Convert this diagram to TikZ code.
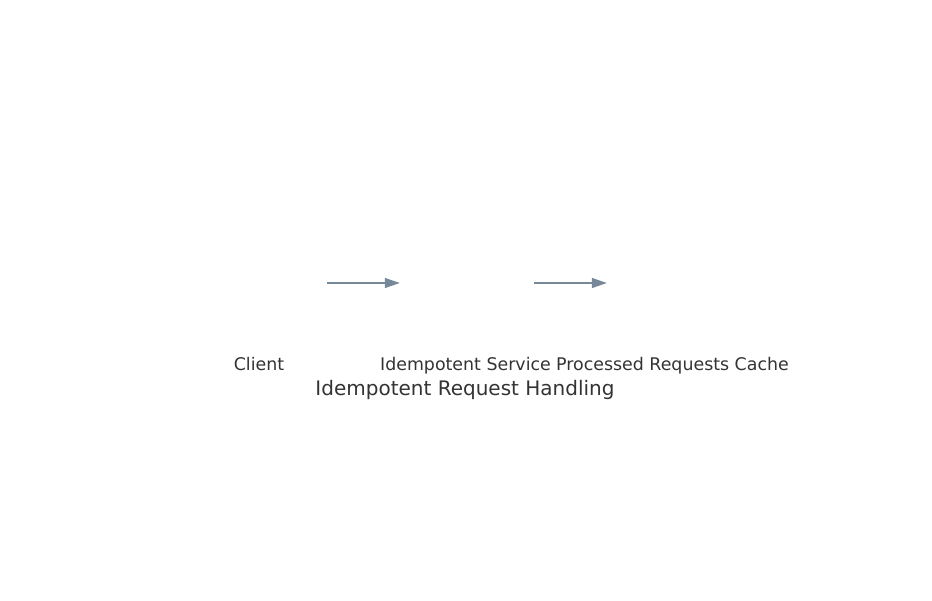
\documentclass[tikz,border=0pt]{standalone}
\usepackage{fontspec}
\setmainfont{DejaVu Sans}
\usetikzlibrary{arrows.meta}
\definecolor{txt}{HTML}{333333}
\definecolor{edge}{HTML}{778899}
\begin{document}
\begin{tikzpicture}[x=1pt,y=-1pt,
  holder/.style={minimum width=136pt,minimum height=60pt,inner sep=0pt},
  lbl/.style={anchor=base,text=txt,font=\fontsize{17.4}{20}\selectfont,inner sep=0pt},
  ttl/.style={anchor=base,text=txt,font=\fontsize{20}{24}\selectfont,inner sep=0pt},
  flow/.style={draw=edge,line width=1.3pt,shorten >=-2.5pt,-{Triangle[length=15pt,width=10pt]}}]
\useasboundingbox (0,0) rectangle (932,600);
\node[holder] (client) at (259,283) {};
\node[holder] (service) at (465.5,283) {};
\node[holder] (cache) at (672.5,283) {};
\node[lbl] (clientlbl) at (259,370) {Client};
\node[lbl] (servicelbl) at (465.5,370) {Idempotent Service};
\node[lbl] (cachelbl) at (672.5,370) {Processed Requests Cache};
\node[ttl] (title) at (465,395.5) {Idempotent Request Handling};
\draw[flow] (client) -- (service);
\draw[flow] (service) -- (cache);
\end{tikzpicture}
\end{document}
